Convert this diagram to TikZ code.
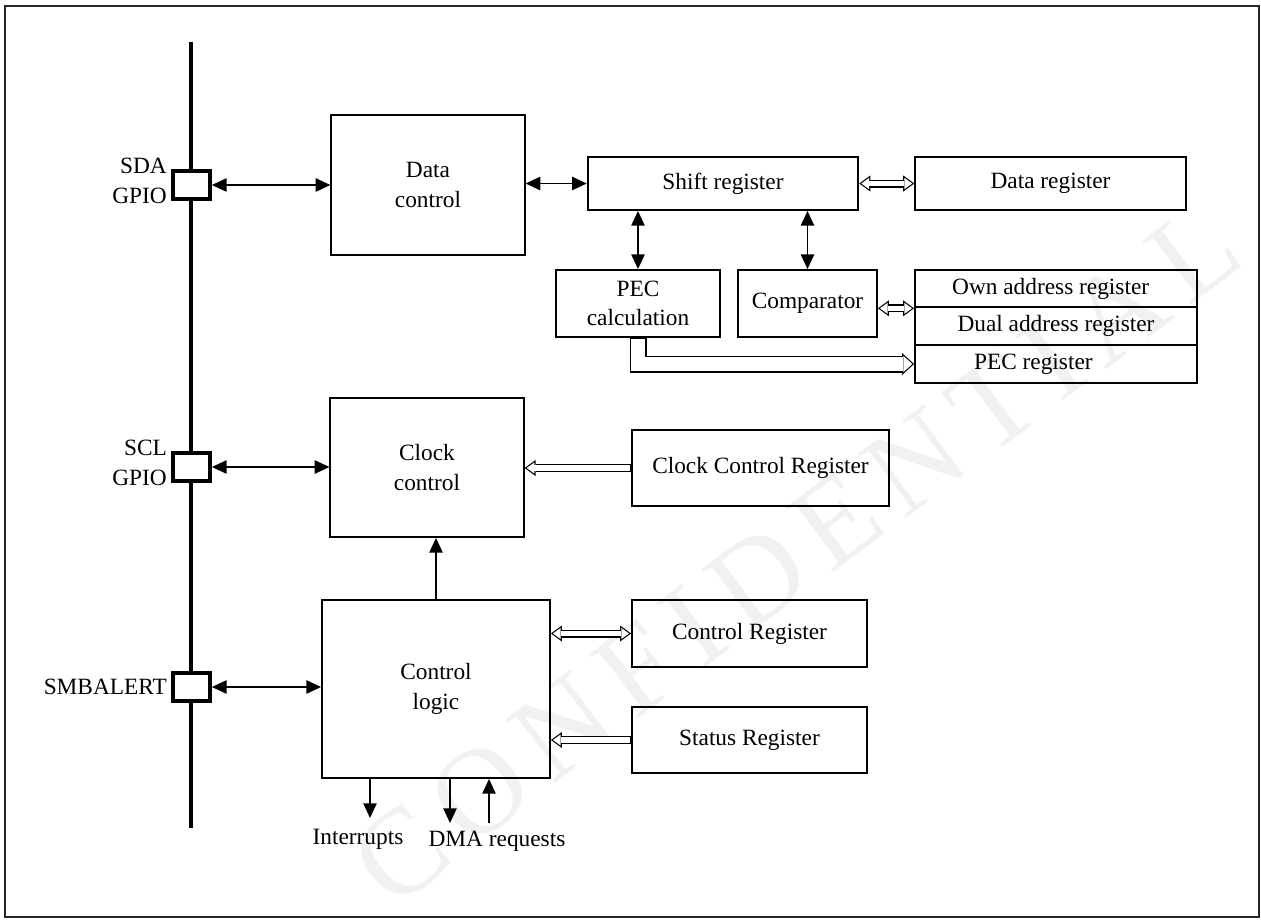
\documentclass[tikz,border=0pt]{standalone}
\usepackage{fontspec}
\setmainfont{Liberation Serif}
\usetikzlibrary{arrows.meta,positioning,decorations.text}

\begin{document}
\begin{tikzpicture}[x=0.75pt,y=-0.75pt,
  font=\fontsize{17.5}{22}\selectfont,
  blk/.style={draw,line width=1.4pt,align=center,inner sep=0pt},
  pad/.style={draw,line width=2.6pt,fill=white,minimum width=28pt,minimum height=21pt,inner sep=0pt},
  sig/.style={line width=1pt,{Triangle[length=11pt,width=10pt]}-{Triangle[length=11pt,width=10pt]}},
  sigone/.style={line width=1pt,-{Triangle[length=11pt,width=10pt]}},
  % hollow register buses: black outline, white core
  bus/.style={line width=6pt,{Triangle[length=8.25pt,width=12pt,line width=0pt]}-{Triangle[length=8.25pt,width=12pt,line width=0pt]},
    postaction={draw=white,line width=4.2pt,shorten <=1.53pt,shorten >=1.53pt,
      {Triangle[length=5.82pt,width=8.46pt,line width=0pt]}-{Triangle[length=5.82pt,width=8.46pt,line width=0pt]}}},
  busone/.style={line width=6pt,-{Triangle[length=8.25pt,width=12pt,line width=0pt]},
    postaction={draw=white,line width=4.2pt,shorten <=0.75pt,shorten >=1.53pt,
      -{Triangle[length=5.82pt,width=8.46pt,line width=0pt]}}},
  wide/.style={line width=12.75pt,-{Triangle[length=9pt,width=16.5pt,line width=0pt]},
    postaction={draw=white,line width=10.95pt,shorten <=0.75pt,shorten >=1.33pt,
      -{Triangle[length=6.77pt,width=12.42pt,line width=0pt]}}},
  lbl/.style={align=right,inner sep=0pt}]
  \useasboundingbox (0,0) rectangle (1261,922);

  % watermark
  \path[decorate,decoration={text along path,text align={fit to path},
      text={|\fontsize{92}{92}\selectfont\color{gray!11}|CONFIDENTIAL}}]
    (395,912) .. controls (650,700) and (950,490) .. (1248,262);

  % frame
  \draw[black!85,line width=1.1pt] (5,6) rectangle (1259,917);

  % bus line with the pins
  \coordinate (bustop) at (191,42);
  \coordinate (busbot) at (191,828);
  \draw[line width=3pt] (bustop) -- (busbot);

  \node[pad] (sda) at (191.5,185) {};
  \node[pad] (scl) at (191.5,467) {};
  \node[pad] (smb) at (191.5,687) {};
  \node[lbl,left=3pt of sda,yshift=3pt] {SDA\\GPIO};
  \node[lbl,left=3pt of scl,yshift=3pt] {SCL\\GPIO};
  \node[lbl,left=3pt of smb] {SMBALERT};

  % data path
  \node[blk,minimum width=145pt,minimum height=105pt] (datactl) at (428,185) {Data\\control};
  \node[blk,minimum width=203pt,minimum height=39.75pt] (shiftreg) at (723,183.5) {Shift register};
  \node[blk,minimum width=203pt,minimum height=39.75pt] (datareg) at (1050.5,183.5) {Data register};
  \node[blk,minimum width=123pt,minimum height=50.25pt] (peccalc) at (638,303.5) {PEC\\calculation};
  \node[blk,minimum width=104.25pt,minimum height=50.25pt] (comp) at (807.5,303.5) {Comparator};
  \node[blk,minimum width=211.5pt,minimum height=28.3pt] (ownaddr) at (1056,288.5) {Own address register\hspace*{8pt}};
  \node[blk,minimum width=211.5pt,minimum height=28.3pt] (dualaddr) at (1056,326) {Dual address register};
  \node[blk,minimum width=211.5pt,minimum height=28.3pt] (pecreg) at (1056,364) {PEC register\hspace*{34pt}};

  % clock and control
  \node[blk,minimum width=145pt,minimum height=104.25pt] (clkctl) at (427,467.5) {Clock\\control};
  \node[blk,minimum width=192.75pt,minimum height=57pt] (ccr) at (760.5,468) {Clock Control Register};
  \node[blk,minimum width=171pt,minimum height=133.5pt] (logic) at (436,689) {Control\\logic};
  \node[blk,minimum width=176.25pt,minimum height=50.25pt] (ctrlreg) at (749.5,633.5) {Control Register};
  \node[blk,minimum width=176.25pt,minimum height=49.5pt] (statreg) at (749.5,740) {Status Register};

  % signal arrows
  \draw[sig] (sda.east) -- (sda.east -| datactl.west);
  \draw[sig] (shiftreg.west -| datactl.east) -- (shiftreg.west);
  \draw[sig] (peccalc.north |- shiftreg.south) -- (peccalc.north);
  \draw[sig] (comp.north |- shiftreg.south) -- (comp.north);
  \draw[sig] (scl.east) -- (scl.east -| clkctl.west);
  \draw[sig] (smb.east) -- (smb.east -| logic.west);
  \draw[sigone] (logic.north) -- (logic.north |- clkctl.south);

  % register buses
  \draw[bus] (shiftreg.east) -- (datareg.west);
  \draw[bus] (comp.east |- ownaddr.south west) -- (ownaddr.south west);
  \draw[wide] (peccalc.south) -- (peccalc.south |- pecreg.west) -- (pecreg.west);
  \draw[busone] (ccr.west) -- (ccr.west -| clkctl.east);
  \draw[bus] (ctrlreg.west -| logic.east) -- (ctrlreg.west);
  \draw[busone] (statreg.west) -- (statreg.west -| logic.east);

  % interrupt and DMA lines
  \coordinate (irq) at (370,818);
  \coordinate (dmaout) at (450,823);
  \coordinate (dmain) at (489,823);
  \draw[sigone] (logic.south -| irq) -- (irq);
  \draw[sigone] (logic.south -| dmaout) -- (dmaout);
  \draw[sigone] (dmain) -- (logic.south -| dmain);
  \node (irqlbl) at (358,839) {Interrupts};
  \node (dmalbl) at (497,841) {DMA requests};
\end{tikzpicture}
\end{document}
